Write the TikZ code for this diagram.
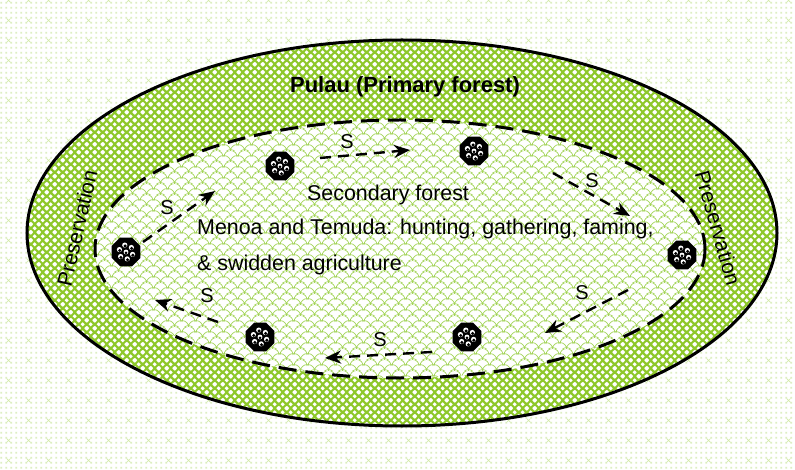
\documentclass[tikz,border=0pt]{standalone}
\usepackage{fontspec}
\setmainfont{Liberation Sans}
\usetikzlibrary{patterns,arrows.meta,shapes.geometric}
\definecolor{ringgreen}{HTML}{8EC82A}
\definecolor{scalegreen}{HTML}{A3D458}
\definecolor{dotgreen}{HTML}{DDEFC2}
\definecolor{xgreen}{HTML}{D2EAA8}
\newcommand\mydmd[2]{%
  \pgfpathmoveto{\pgfpoint{#1pt+2.1pt}{#2pt}}%
  \pgfpathlineto{\pgfpoint{#1pt}{#2pt+2.1pt}}%
  \pgfpathlineto{\pgfpoint{#1pt-2.1pt}{#2pt}}%
  \pgfpathlineto{\pgfpoint{#1pt}{#2pt-2.1pt}}%
  \pgfpathclose}
\newcommand\myscale[2]{%
  \pgfpathmoveto{\pgfpoint{#1pt-7pt}{#2pt}}%
  \pgfpatharc{180}{0}{7pt}}
\pgfdeclarepatternformonly{whitediamonds}{\pgfqpoint{0pt}{0pt}}{\pgfqpoint{7.7pt}{7.7pt}}{\pgfqpoint{7.7pt}{7.7pt}}{%
  \mydmd{0}{0}\mydmd{7.7}{0}\mydmd{0}{7.7}\mydmd{7.7}{7.7}\mydmd{3.85}{3.85}%
  \pgfusepath{fill}}
\pgfdeclarepatternformonly{fishscales}{\pgfqpoint{0pt}{0pt}}{\pgfqpoint{14pt}{11pt}}{\pgfqpoint{14pt}{11pt}}{%
  \pgfsetlinewidth{0.75pt}%
  \myscale{0}{0}\myscale{14}{0}\myscale{7}{5.5}\myscale{7}{-5.5}%
  \pgfusepath{stroke}}
\pgfdeclarepatternformonly{bgdots}{\pgfqpoint{0pt}{0pt}}{\pgfqpoint{5pt}{5pt}}{\pgfqpoint{5pt}{5pt}}{%
  \pgfpathrectangle{\pgfqpoint{1.5pt}{1.5pt}}{\pgfqpoint{2.2pt}{2.2pt}}%
  \pgfusepath{fill}}
\pgfdeclarepatternformonly{bgcross}{\pgfqpoint{0pt}{0pt}}{\pgfqpoint{20pt}{20pt}}{\pgfqpoint{20pt}{20pt}}{%
  \pgfsetlinewidth{0.7pt}%
  \pgfpathmoveto{\pgfqpoint{8pt}{8pt}}\pgfpathlineto{\pgfqpoint{12pt}{12pt}}%
  \pgfpathmoveto{\pgfqpoint{8pt}{12pt}}\pgfpathlineto{\pgfqpoint{12pt}{8pt}}%
  \pgfusepath{stroke}}
\tikzset{
  settle/.style={regular polygon, regular polygon sides=8, minimum size=31pt, inner sep=0pt, fill=black,
    path picture={
      \foreach \a in {20,80,...,320} {
        \fill[white] ([shift={(\a:7)}]path picture bounding box.center) circle (2.6);
        \fill[black] ([shift={(\a:7)}]path picture bounding box.center) ++(0.3,0.9) circle (1.7);
      }
      \fill[white] (path picture bounding box.center) circle (2.4);
      \fill[black] (path picture bounding box.center) ++(0,0.8) circle (1.5);
    }},
  sarrow/.style={line width=2.4pt, dash pattern=on 11pt off 7pt, -{Stealth[length=16pt,width=13pt]}},
  slabel/.style={inner sep=0pt, font=\fontsize{20}{22}\selectfont},
  bodytext/.style={inner sep=0pt, anchor=base west, font=\fontsize{21.4}{24}\selectfont},
  presv/.style={inner sep=0pt, font=\fontsize{21}{24}\selectfont}
}
\begin{document}
\begin{tikzpicture}[x=1pt,y=-1pt]
\useasboundingbox (0,0) rectangle (795,470);
% background
\fill[white] (0,0) rectangle (795,470);
\fill[pattern=bgdots, pattern color=dotgreen] (0,0) rectangle (795,470);
\fill[pattern=bgcross, pattern color=xgreen] (0,0) rectangle (795,470);
% outer ring (primary forest)
\fill[ringgreen] (402,233) ellipse [x radius=375, y radius=193];
\fill[pattern=whitediamonds, pattern color=white] (402,233) ellipse [x radius=375, y radius=193];
\draw[line width=3pt] (402,233) ellipse [x radius=375, y radius=193];
% inner secondary forest
\fill[white] (400,249) ellipse [x radius=305, y radius=129];
\fill[pattern=fishscales, pattern color=scalegreen] (400,249) ellipse [x radius=305, y radius=129];
\draw[line width=3pt, dash pattern=on 18pt off 9pt] (400,249) ellipse [x radius=305, y radius=129];
% texts
\node[inner sep=0pt, anchor=base, font=\bfseries\fontsize{22}{26}\selectfont] (pulau) at (405,93) {Pulau (Primary forest)};
\node[bodytext] (sec) at (307,201) {Secondary forest};
\node[bodytext] (menoa) at (197,235) {Menoa and Temuda: hunting, gathering, faming,};
\node[bodytext] (swid) at (197,271) {\& swidden agriculture};
\node[presv, rotate=77] (presl) at (77,228) {Preservation};
\node[presv, rotate=-74] (presr) at (718,228) {Preservation};
% settlements
\node[settle] (v1) at (280,166) {};
\node[settle] (v2) at (474,151) {};
\node[settle] (v3) at (126,252) {};
\node[settle] (v4) at (682,255) {};
\node[settle] (v5) at (260,337) {};
\node[settle] (v6) at (467,337) {};
% arrow end points
\coordinate (a1s) at (320,158); \coordinate (a1e) at (410,150);
\coordinate (a2s) at (553,173); \coordinate (a2e) at (630,216);
\coordinate (a3s) at (628,290); \coordinate (a3e) at (545,333);
\coordinate (a4s) at (432,352); \coordinate (a4e) at (325,358);
\coordinate (a5s) at (218,322); \coordinate (a5e) at (155,300);
\coordinate (a6s) at (143,242); \coordinate (a6e) at (215,191);
\draw[sarrow] (a1s) -- (a1e);
\draw[sarrow] (a2s) -- (a2e);
\draw[sarrow] (a3s) -- (a3e);
\draw[sarrow] (a4s) -- (a4e);
\draw[sarrow] (a5s) -- (a5e);
\draw[sarrow] (a6s) -- (a6e);
\node[slabel] (s1) at (347,142) {S};
\node[slabel] (s2) at (592,181) {S};
\node[slabel] (s3) at (582,293) {S};
\node[slabel] (s4) at (380,340) {S};
\node[slabel] (s5) at (207,296) {S};
\node[slabel] (s6) at (167,208) {S};
\end{tikzpicture}
\end{document}
